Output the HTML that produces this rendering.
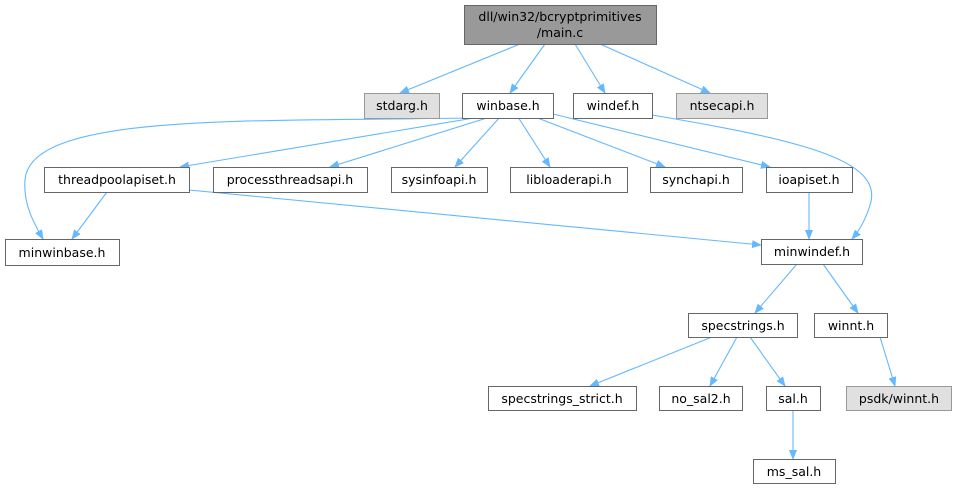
<!DOCTYPE html>
<html><head><meta charset="utf-8"><style>
html,body{margin:0;padding:0;background:#fff;width:957px;height:491px;overflow:hidden}
text{font-family:"DejaVu Sans","Liberation Sans",sans-serif;font-size:12.5px;fill:#000}
</style></head><body>
<svg width="957" height="491" viewBox="0 0 957 491" xmlns="http://www.w3.org/2000/svg">
<defs><marker id="a" markerWidth="10" markerHeight="8" refX="9" refY="4" orient="auto" markerUnits="userSpaceOnUse"><path d="M0,0 L10,4 L0,8 z" fill="#63b8ff"/></marker></defs>
<g fill="none" stroke="#63b8ff" stroke-width="1.1" marker-end="url(#a)">
<path d="M520,44 L400,93"/>
<path d="M545,44 L510,93"/>
<path d="M575,44 L605,93"/>
<path d="M600,44 L710,93"/>
<path d="M470,118 C250,122 30,112 25,180 C23,205 35,225 43,239"/>
<path d="M480,117 L180,167"/>
<path d="M490,117 L330,167"/>
<path d="M500,117 L455,167"/>
<path d="M518,117 L550,167"/>
<path d="M535,117 L665,167"/>
<path d="M553,114 L770,167"/>
<path d="M652,115 C800,140 885,160 870,205 C865,222 858,232 852,239"/>
<path d="M107,192 L72,239"/>
<path d="M189,190 L761,245"/>
<path d="M809,192 L809,239"/>
<path d="M797,264 L755,313"/>
<path d="M823,264 L858,313"/>
<path d="M712,337 L590,386"/>
<path d="M737,337 L710,386"/>
<path d="M750,337 L785,386"/>
<path d="M880,337 L895,386"/>
<path d="M793,410 L793,459"/>
</g>
<g stroke="#666" stroke-width="1">
<rect x="464.5" y="5.5" width="192" height="39" fill="#999"/>
<rect x="364.5" y="93.5" width="75" height="25" fill="#e0e0e0" stroke="#999"/>
<rect x="462.5" y="93.5" width="91" height="25" fill="#fff"/>
<rect x="573.5" y="93.5" width="79" height="25" fill="#fff"/>
<rect x="676.5" y="93.5" width="91" height="25" fill="#e0e0e0" stroke="#999"/>
<rect x="44.5" y="167.5" width="145" height="25" fill="#fff"/>
<rect x="213.5" y="167.5" width="154" height="25" fill="#fff"/>
<rect x="391.5" y="167.5" width="96" height="25" fill="#fff"/>
<rect x="510.5" y="167.5" width="117" height="25" fill="#fff"/>
<rect x="650.5" y="167.5" width="92" height="25" fill="#fff"/>
<rect x="766.5" y="167.5" width="86" height="25" fill="#fff"/>
<rect x="5.5" y="239.5" width="114" height="26" fill="#fff"/>
<rect x="761.5" y="239.5" width="101" height="25" fill="#fff"/>
<rect x="688.5" y="313.5" width="109" height="24" fill="#fff"/>
<rect x="814.5" y="313.5" width="73" height="24" fill="#fff"/>
<rect x="488.5" y="386.5" width="148" height="24" fill="#fff"/>
<rect x="659.5" y="386.5" width="83" height="24" fill="#fff"/>
<rect x="766.5" y="386.5" width="54" height="24" fill="#fff"/>
<rect x="846.5" y="386.5" width="105" height="24" fill="#e0e0e0" stroke="#999"/>
<rect x="753.5" y="459.5" width="82" height="24" fill="#fff"/>
</g>
<g text-anchor="middle">
<text x="560" y="21">dll/win32/bcryptprimitives</text>
<text x="560" y="37">/main.c</text>
<text x="402" y="110">stdarg.h</text>
<text x="508" y="110">winbase.h</text>
<text x="613" y="110">windef.h</text>
<text x="722" y="110">ntsecapi.h</text>
<text x="117" y="184">threadpoolapiset.h</text>
<text x="290" y="184">processthreadsapi.h</text>
<text x="439" y="184">sysinfoapi.h</text>
<text x="569" y="184">libloaderapi.h</text>
<text x="696" y="184">synchapi.h</text>
<text x="809" y="184">ioapiset.h</text>
<text x="62" y="257">minwinbase.h</text>
<text x="812" y="256">minwindef.h</text>
<text x="743" y="330">specstrings.h</text>
<text x="851" y="330">winnt.h</text>
<text x="562" y="403">specstrings_strict.h</text>
<text x="701" y="403">no_sal2.h</text>
<text x="793" y="403">sal.h</text>
<text x="899" y="403">psdk/winnt.h</text>
<text x="794" y="476">ms_sal.h</text>
</g>
</svg>
</body></html>
